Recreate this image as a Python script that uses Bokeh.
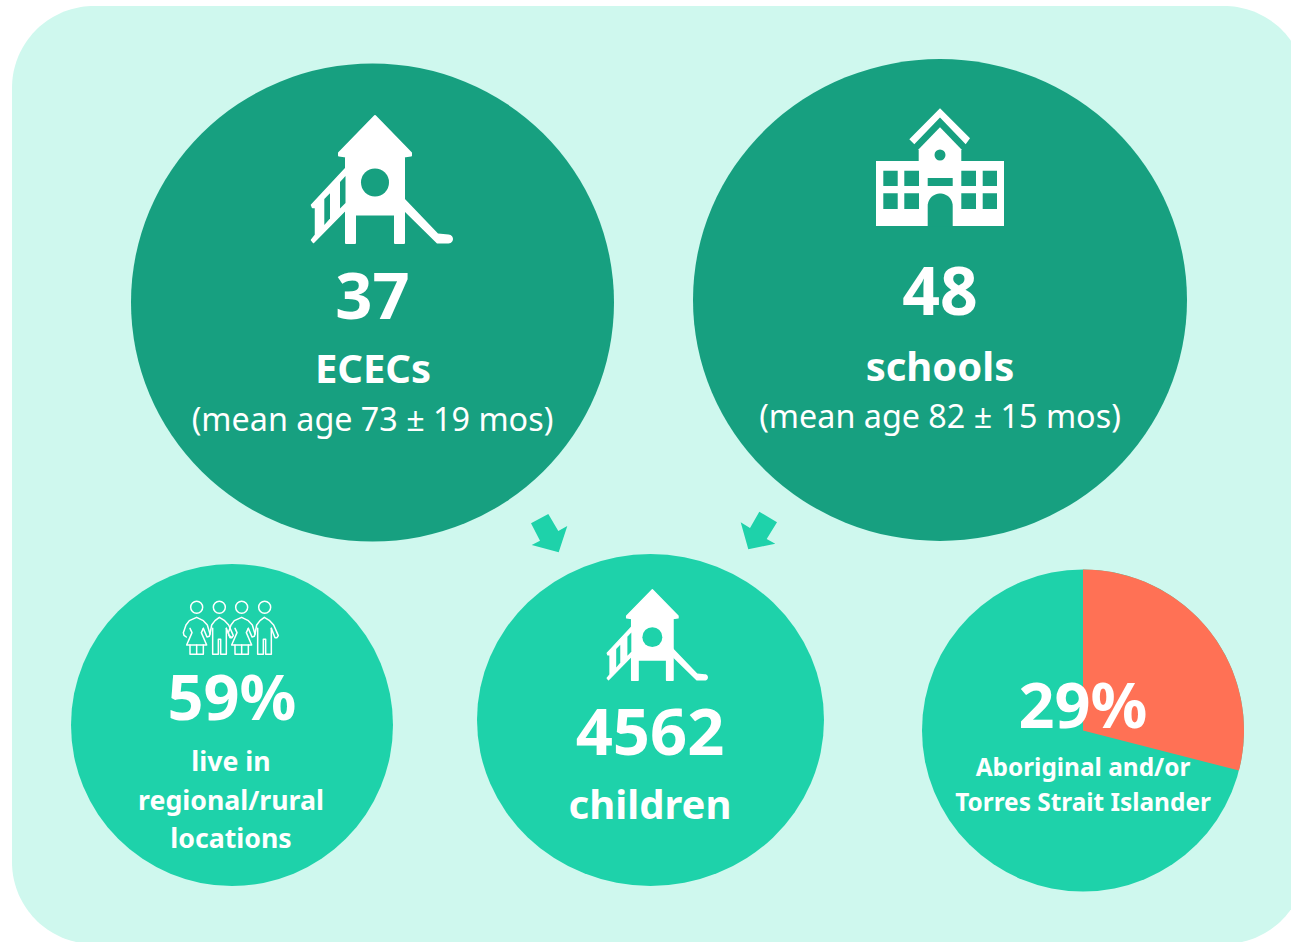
import numpy as np
from bokeh.plotting import figure
from bokeh.models import Range1d
from bokeh.core.properties import value
from bokeh.embed import file_html
from bokeh.resources import INLINE

# ---- data ----
ecec_count = 37
ecec_label = "ECECs"
ecec_age_mean = 73
ecec_age_sd = 19
school_count = 48
school_label = "schools"
school_age_mean = 82
school_age_sd = 15
children_count = 4562
children_label = "children"
rural_pct = 59
rural_lines = ["live in", "regional/rural", "locations"]
indigenous_pct = 29
indigenous_lines = ["Aboriginal and/or", "Torres Strait Islander"]

BG = "#CFF8EE"
DARK = "#17A080"
MID = "#1ED2AA"
CORAL = "#FF7155"
WHITE = "#FFFFFF"
FONT = "Noto Sans"

W, H = 1291, 942
p = figure(width=W, height=H, output_backend="svg", toolbar_location=None,
           x_range=Range1d(0.5, W + 0.5), y_range=Range1d(-0.5, H - 0.5),
           min_border=0, outline_line_color=None,
           background_fill_color=WHITE, border_fill_color=WHITE)
p.axis.visible = False
p.grid.visible = False


def Y(v):
    return 942 - np.asarray(v, dtype=float)


def poly(pts, color=WHITE, lw=0.0):
    a = np.asarray(pts, dtype=float)
    p.patch(a[:, 0], Y(a[:, 1]), fill_color=color,
            line_color=color if lw else None, line_width=lw or 1, line_join="round")


def oval(cx, cy, rx, ry, color):
    p.ellipse([cx], [float(Y(cy))], width=2 * rx, height=2 * ry,
              fill_color=color, line_color=None)


def arc(cx, cy, r, a0, a1, n=40):
    t = np.radians(np.linspace(a0, a1, n))
    return np.column_stack([cx + r * np.cos(t), cy - r * np.sin(t)])


def label(s, x, y, size, bold=True):
    p.text([x], [float(Y(y - 0.35 * size))], text=[s], text_color=WHITE,
           text_font=value(FONT), text_font_size=f"{size}px",
           text_font_style="bold" if bold else "normal",
           text_align="center", text_baseline="alphabetic")


# background rounded panel
L, T, R, B, rad = 12, 6, 1306, 944, 82
panel = np.vstack([arc(R - rad, T + rad, rad, 90, 0), arc(R - rad, B - rad, rad, 0, -90),
                   arc(L + rad, B - rad, rad, 270, 180), arc(L + rad, T + rad, rad, 180, 90)])
poly(panel, BG)

# large circles
oval(372.5, 302.5, 241.5, 239, DARK)
oval(940, 300, 247, 241, DARK)
oval(650.5, 720, 173.5, 166, MID)
oval(232, 725, 161, 161, MID)

# pie
pie_cx, pie_cy, pie_r = 1083, 730.5, 161
p.ellipse([pie_cx], [float(Y(pie_cy))], width=2 * pie_r, height=2 * pie_r, fill_color=MID, line_color=None)
p.wedge([pie_cx], [float(Y(pie_cy))], radius=pie_r,
        start_angle=np.pi / 2 - indigenous_pct / 100 * 2 * np.pi, end_angle=np.pi / 2,
        fill_color=CORAL, line_color=None)

# arrows
poly([(531, 523.3), (548.3, 514), (558.3, 531), (567.3, 526), (558.7, 552.3), (531.7, 545), (540, 540.7)], MID)
poly([(759.3, 511.7), (777, 522.3), (766.7, 539), (775.3, 543.7), (748.3, 549.3), (740.7, 522.3), (750, 528)], MID)


# playground icon
def playground(ox, oy, s, hole):
    def T_(pts):
        a = np.asarray(pts, dtype=float)
        return np.column_stack([ox + (a[:, 0] - 310) * s, oy + (a[:, 1] - 115) * s])
    lw = 2.0 * s
    # roof + tower + legs
    poly(T_([(375, 116), (411, 153), (411, 155.5), (404, 156.5), (404, 243), (395, 243), (395, 214.5),
             (355, 214.5), (355, 243), (346, 243), (346, 156.5), (339, 155.5), (339, 153)]), WHITE, lw)
    # ladder
    poly(T_([(345.5, 168.5), (311.5, 205), (312.5, 207.5), (315.5, 207.5), (315.5, 235), (311.5, 240),
             (313.5, 242.5), (345.5, 210)]), WHITE, 1.5 * s)
    poly(T_([(340, 182), (345.5, 176), (345.5, 203), (340, 208.5)]), hole)
    poly(T_([(324.3, 199), (330, 193.3), (330, 218.5), (324.3, 225)]), hole)
    # slide
    end = arc(448.5, 239, 4.5, 90, -90, 14)
    poly(T_(np.vstack([[(404, 198), (438, 233.5)], end, [(437, 243.5), (404, 211)]])), WHITE)
    # porthole
    c = T_([(375, 182.5)])[0]
    oval(c[0], c[1], 14 * s, 14 * s, hole)


playground(310, 115, 1.0, DARK)
playground(606, 589, 0.713, MID)

# school icon
poly([(940, 108.3), (970, 138.3), (965.7, 144.3), (940, 117.5), (914.3, 144.3), (909.3, 139.3)])
poly([(940, 127.3), (961.3, 149.3), (961.3, 162), (918.7, 162), (918.7, 149.3)])
poly([(876, 161), (1004, 161), (1004, 226), (876, 226)])
oval(940, 155, 5.5, 5.5, DARK)
for x0, x1 in [(883.3, 897.7), (904.3, 919), (961.3, 976), (982.7, 997)]:
    for y0, y1 in [(170.7, 186), (193.3, 209)]:
        poly([(x0, y0), (x1, y0), (x1, y1), (x0, y1)], DARK)
poly([(927.7, 178), (952.7, 178), (952.7, 186), (927.7, 186)], DARK)
door = np.vstack([arc(940.2, 206, 12.5, 0, 180, 24), [(927.7, 226.5), (952.7, 226.5)]])
poly(door, DARK)


# people icon (outline)
def zoom_xy(pts, dx=0):
    a = np.asarray(pts, dtype=float)
    return 170 + (a[:, 0] + dx) / 3, 590 + a[:, 1] / 3


woman = [
    [(49, 141), (42, 136), (40, 128), (48, 105), (58, 92), (80, 82), (100, 92), (112, 105), (120, 132), (118, 139), (111, 141), (100, 115)],
    [(60, 115), (66, 128), (50, 165), (110, 165), (94, 128), (100, 115)],
    [(60, 165), (60, 193), (100, 193), (100, 165)],
    [(80, 165), (80, 193)],
]
man = [
    [(120, 132), (125, 105), (135, 92), (148, 82), (164, 92), (176, 105), (190, 137), (186, 143), (180, 143), (169, 115)],
    [(169, 115), (169, 193), (152, 193), (152, 148), (145, 148), (145, 193), (128, 193), (128, 115)],
]
xs, ys = [], []
for dx in (0, 135):
    for seg in woman + man:
        xx, yy = zoom_xy(seg, dx)
        xs.append(xx)
        ys.append(Y(yy))
p.multi_line(xs, ys, line_color=WHITE, line_width=1.5, line_join="round", line_cap="round")
hx = [80, 148, 215, 284]
p.ellipse([170 + h / 3 for h in hx], [float(Y(590 + 52 / 3))] * 4, width=12, height=12,
          fill_color=None, line_color=WHITE, line_width=1.5)

# texts
label(str(ecec_count), 372.5, 318.5, 65)
label(ecec_label, 373, 381, 40)
label(f"(mean age {ecec_age_mean} ± {ecec_age_sd} mos)", 372.5, 429.5, 32.3, bold=False)

label(str(school_count), 940, 314.5, 66)
label(school_label, 940, 379, 40)
label(f"(mean age {school_age_mean} ± {school_age_sd} mos)", 940, 426.5, 32.3, bold=False)

label(f"{rural_pct}%", 232, 717.5, 63)
for s, y in zip(rural_lines, [770, 809, 847]):
    label(s, 231, y, 26.7)

label(str(children_count), 650, 755, 65)
label(children_label, 650, 817, 40)

label(f"{indigenous_pct}%", 1083, 725.5, 63)
for s, y in zip(indigenous_lines, [775, 810]):
    label(s, 1083, y, 24.4)

open("out.html", "w").write(file_html(p, INLINE))
